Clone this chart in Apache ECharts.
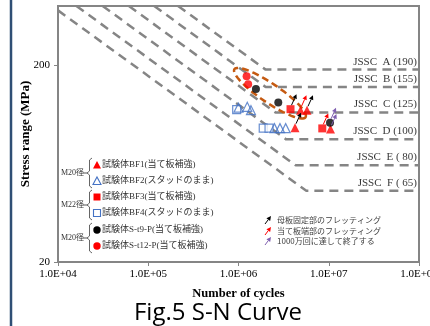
<!DOCTYPE html>
<html><head><meta charset="utf-8">
<script src="https://cdn.jsdelivr.net/npm/echarts@6/dist/echarts.min.js"></script>
<style>html,body{margin:0;padding:0;background:#fff}#c{width:430px;height:326px}</style>
</head><body><div id="c"></div>
<script>
// ---- tick labels ----
const xTickValues = [1e4, 1e5, 1e6, 1e7, 1e8];
const xTickLabels = ['1.0E+04', '1.0E+05', '1.0E+06', '1.0E+07', '1.0E+08'];
const yTickValues = [20, 200];
const yTickLabels = ['20', '200'];

// ---- JSSC design curves: start, knee (cut-off) and end ----
const jsscNames = ['JSSC  A (190)', 'JSSC  B (155)', 'JSSC  C (125)', 'JSSC  D (100)', 'JSSC  E ( 80)', 'JSSC  F ( 65)'];
const jsscStart = [[214000, 400], [116400, 400], [61000, 400], [31250, 400], [16000, 400], [10000, 380]];
const jsscKnee = [[2.0e6, 190], [2.0e6, 155], [2.57e6, 115], [3.37e6, 84], [4.30e6, 62], [5.64e6, 46]];
const jsscEndN = 1e8;

// ---- test results [N, stress range MPa] ----
const bf1 = [[4.86e6, 118], [5.74e6, 118], [4.23e6, 96.3], [1.045e7, 94.7]];
const bf2 = [[1.0e6, 121.7], [1.25e6, 122.9], [1.375e6, 118.2], [2.5e6, 95.8], [2.88e6, 95.8], [3.33e6, 95.8]];
const bf3 = [[3.77e6, 119.6], [8.48e6, 95.5]];
const bf4 = [[9.55e5, 118.9], [1.88e6, 95.8], [2.18e6, 95.8]];
const st9 = [[1.56e6, 151.4], [2.76e6, 129.3], [1.033e7, 101.9]];
const st12 = [[1.23e6, 175.9], [1.28e6, 160.2]];

// ---- failure-mode arrows (attached points) ----
const arrowsBase = [[3.77e6, 119.6], [5.74e6, 118], [4.23e6, 96.3]];
const arrowsPlate = [[4.86e6, 118], [8.48e6, 95.5]];
const arrowsRunout = [[1.033e7, 101.9], [1.045e7, 94.7]];

// ---- highlighted group (ellipse ends) ----
const ellipseEnds = [[9.4e5, 188.5, 5.3e6, 110.2]];

// ---- legend texts ----
const legendTexts = ['試験体BF1(当て板補強)', '試験体BF2(スタッドのまま)', '試験体BF3(当て板補強)', '試験体BF4(スタッドのまま)', '試験体S-t9-P(当て板補強)', '試験体S-t12-P(当て板補強)'];
const groupTexts = ['M20径', 'M22径', 'M20径'];
const arrowLegendTexts = ['母板固定部のフレッティング', '当て板端部のフレッティング', '1000万回に達して終了する'];

const SERIF = "'Liberation Serif', 'Noto Sans CJK JP', serif";
const GRAY = '#858585';
const RED = '#ff0000', BLUE = '#4472C4', BLACK = '#000000', PURPLE = '#7f5fb0', ORANGE = '#C55A11';

const chart = echarts.init(document.getElementById('c'));

const series = [];
jsscNames.forEach((n, i) => {
  series.push({
    type: 'line', name: n, symbol: 'none', silent: true, clip: true, z: 2,
    lineStyle: { color: GRAY, width: 2.5, type: [9, 6] },
    data: [jsscStart[i], jsscKnee[i], [jsscEndN, jsscKnee[i][1]]]
  });
});
series.push({
  type: 'scatter', symbolSize: 0, silent: true, z: 3,
  data: jsscNames.map((n, i) => ({ value: [jsscEndN, jsscKnee[i][1]], name: n })),
  label: { show: true, position: 'left', distance: 2, offset: [0, -8], formatter: p => p.name,
    fontFamily: SERIF, fontSize: 11, color: '#000' }
});

function ellipseRender(params, api) {
  const p1 = api.coord([api.value(0), api.value(1)]);
  const p2 = api.coord([api.value(2), api.value(3)]);
  const cx = (p1[0] + p2[0]) / 2, cy = (p1[1] + p2[1]) / 2;
  const th = Math.atan2(p2[1] - p1[1], p2[0] - p1[0]);
  const a = Math.hypot(p2[0] - p1[0], p2[1] - p1[1]) / 2 + 2, b = 9.5;
  const pts = [];
  for (let k = 0; k < 72; k++) {
    const t = k / 72 * Math.PI * 2;
    pts.push([cx + a * Math.cos(t) * Math.cos(th) - b * Math.sin(t) * Math.sin(th),
              cy + a * Math.cos(t) * Math.sin(th) + b * Math.sin(t) * Math.cos(th)]);
  }
  return { type: 'polygon', shape: { points: pts }, style: { fill: 'none', stroke: ORANGE, lineWidth: 2.5, lineDash: [7, 4] } };
}
series.push({ type: 'custom', renderItem: ellipseRender, data: ellipseEnds, silent: true, z: 4, clip: false });

series.push({ type: 'scatter', name: 'BF4', data: bf4, symbol: 'rect', symbolSize: 8, itemStyle: { color: '#fff', borderColor: BLUE, borderWidth: 1.2 }, z: 5 });
series.push({ type: 'scatter', name: 'BF2', data: bf2, symbol: 'triangle', symbolSize: 9, itemStyle: { color: 'rgba(255,255,255,0)', borderColor: BLUE, borderWidth: 1.2 }, z: 5 });
series.push({ type: 'scatter', name: 'BF3', data: bf3, symbol: 'rect', symbolSize: 8, itemStyle: { color: RED }, z: 6 });
series.push({ type: 'scatter', name: 'BF1', data: bf1, symbol: 'triangle', symbolSize: 9, itemStyle: { color: RED }, z: 6 });
series.push({ type: 'scatter', name: 'S-t9-P', data: st9, symbol: 'circle', symbolSize: 8, itemStyle: { color: BLACK }, z: 6 });
series.push({ type: 'scatter', name: 'S-t12-P', data: st12, symbol: 'circle', symbolSize: 8, itemStyle: { color: RED }, z: 6 });

function arrowShape(x0, y0, x1, y1, color) {
  const ang = Math.atan2(y1 - y0, x1 - x0);
  const hl = 4.5, hw = 2.3;
  const bx = x1 - hl * Math.cos(ang), by = y1 - hl * Math.sin(ang);
  const nx = -Math.sin(ang), ny = Math.cos(ang);
  return [
    { type: 'line', shape: { x1: x0, y1: y0, x2: bx, y2: by }, style: { stroke: color, lineWidth: 1 } },
    { type: 'polygon', shape: { points: [[x1, y1], [bx + nx * hw, by + ny * hw], [bx - nx * hw, by - ny * hw]] }, style: { fill: color } }
  ];
}
function arrowRender(color) {
  return function (params, api) {
    const p = api.coord([api.value(0), api.value(1)]);
    return { type: 'group', children: arrowShape(p[0] + 1, p[1] - 4, p[0] + 6, p[1] - 15, color) };
  };
}
series.push({ type: 'custom', renderItem: arrowRender(BLACK), data: arrowsBase, silent: true, z: 7, clip: false });
series.push({ type: 'custom', renderItem: arrowRender(RED), data: arrowsPlate, silent: true, z: 7, clip: false });
series.push({ type: 'custom', renderItem: arrowRender(PURPLE), data: arrowsRunout, silent: true, z: 7, clip: false });

// ---- graphic decorations (legend, frame, title) ----
const graphic = [];
graphic.push({ type: 'line', shape: { x1: 11, y1: 0, x2: 11, y2: 326 }, style: { stroke: '#2f4f75', lineWidth: 2.5 } });
graphic.push({ type: 'text', x: 218, y: 313, style: { text: 'Fig.5 S-N Curve', fontFamily: "'Open Sans', sans-serif", fontSize: 24, fill: '#000', align: 'center', verticalAlign: 'middle' } });

const rowsY = [165, 181, 197, 213, 230, 246];
const symX = 97, txtX = 102;
function legendSym(kind, y) {
  if (kind === 0) return { type: 'polygon', shape: { points: [[symX, y - 4], [symX + 4, y + 3.5], [symX - 4, y + 3.5]] }, style: { fill: RED } };
  if (kind === 1) return { type: 'polygon', shape: { points: [[symX, y - 4], [symX + 4, y + 3.5], [symX - 4, y + 3.5]] }, style: { fill: '#fff', stroke: BLUE, lineWidth: 1.1 } };
  if (kind === 2) return { type: 'rect', shape: { x: symX - 3.5, y: y - 3.5, width: 7, height: 7 }, style: { fill: RED } };
  if (kind === 3) return { type: 'rect', shape: { x: symX - 3.5, y: y - 3.5, width: 7, height: 7 }, style: { fill: '#fff', stroke: BLUE, lineWidth: 1.1 } };
  if (kind === 4) return { type: 'circle', shape: { cx: symX, cy: y, r: 3.7 }, style: { fill: BLACK } };
  return { type: 'circle', shape: { cx: symX, cy: y, r: 3.7 }, style: { fill: RED } };
}
legendTexts.forEach((t, i) => {
  graphic.push(legendSym(i, rowsY[i]));
  graphic.push({ type: 'text', x: txtX, y: rowsY[i], style: { text: t, fontFamily: SERIF, fontSize: 9, fill: '#333', verticalAlign: 'middle' } });
});
groupTexts.forEach((t, g) => {
  const yc = (rowsY[2 * g] + rowsY[2 * g + 1]) / 2;
  const y0 = rowsY[2 * g] - 7, y1 = rowsY[2 * g + 1] + 7;
  graphic.push({ type: 'text', x: 61, y: yc, style: { text: t, fontFamily: SERIF, fontSize: 8, fill: '#333', verticalAlign: 'middle' } });
  graphic.push({ type: 'polyline', shape: { points: [[83, yc], [87, yc]] }, style: { stroke: '#555', lineWidth: 1 } });
  graphic.push({ type: 'polyline', shape: { points: [[92, y0], [89.5, y0 + 2], [89.5, yc - 2], [87, yc], [89.5, yc + 2], [89.5, y1 - 2], [92, y1]] }, style: { stroke: '#555', lineWidth: 0.9, fill: 'none' } });
});
const arrowRowsY = [220, 231, 241];
const arrowColors = [BLACK, RED, PURPLE];
arrowLegendTexts.forEach((t, i) => {
  const y = arrowRowsY[i];
  arrowShape(265, y + 4, 271, y - 4, arrowColors[i]).forEach(e => graphic.push(e));
  graphic.push({ type: 'text', x: 277, y: y, style: { text: t, fontFamily: "'Noto Sans CJK JP', sans-serif", fontSize: 8, fill: '#404040', verticalAlign: 'middle' } });
});

chart.setOption({
  animation: false,
  backgroundColor: '#fff',
  grid: { left: 58, right: 11, top: 6, bottom: 64, show: true, borderColor: GRAY, borderWidth: 2, outerBoundsMode: 'none', containLabel: false },
  xAxis: {
    type: 'log', logBase: 10, min: 1e4, max: 1e8,
    name: 'Number of cycles', nameLocation: 'middle', nameGap: 26,
    nameTextStyle: { fontFamily: SERIF, fontWeight: 'bold', fontSize: 12.5, color: '#000' },
    axisLine: { show: true, lineStyle: { color: GRAY, width: 2 } },
    axisTick: { show: true, inside: false, length: 4, lineStyle: { color: GRAY }, customValues: xTickValues },
    axisLabel: { margin: 7, fontFamily: SERIF, fontSize: 11, color: '#000', customValues: xTickValues,
      formatter: v => { const i = xTickValues.findIndex(t => Math.abs(Math.log10(t) - Math.log10(v)) < 1e-6); return i >= 0 ? xTickLabels[i] : ''; } },
    splitLine: { show: false }, minorTick: { show: false }
  },
  yAxis: {
    type: 'log', logBase: 10, min: 20, max: 400,
    name: 'Stress range (MPa)', nameLocation: 'middle', nameGap: 26, nameMoveOverlap: false,
    nameTextStyle: { fontFamily: SERIF, fontWeight: 'bold', fontSize: 13, color: '#000' },
    axisLine: { show: true, lineStyle: { color: GRAY, width: 2 } },
    axisTick: { show: true, inside: false, length: 4, lineStyle: { color: GRAY }, customValues: yTickValues },
    axisLabel: { margin: 8, fontFamily: SERIF, fontSize: 11, color: '#000', customValues: yTickValues,
      formatter: v => { const i = yTickValues.findIndex(t => Math.abs(t - v) < 1e-6 * t); return i >= 0 ? yTickLabels[i] : ''; } },
    splitLine: { show: false }
  },
  graphic: graphic,
  series: series
});
</script>
</body></html>
